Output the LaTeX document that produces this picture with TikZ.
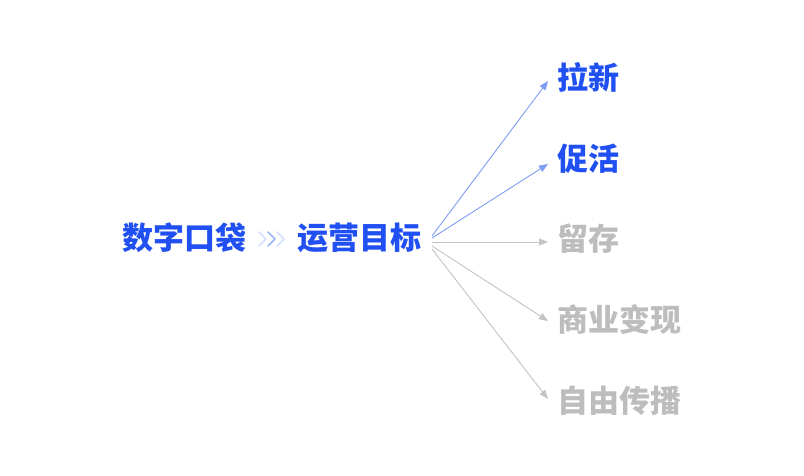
\documentclass[tikz,border=0pt]{standalone}
\usepackage{fontspec}
\newfontfamily\cjk{Noto Sans CJK SC}
\usetikzlibrary{arrows.meta}
\definecolor{mainblue}{HTML}{2150F2}
\definecolor{lineblue}{HTML}{7F9DF5}
\definecolor{chevlight}{HTML}{D5E0FD}
\definecolor{chevmid}{HTML}{9DB6FA}
\definecolor{softgray}{HTML}{BDBDBD}
\definecolor{linegray}{HTML}{C4C4C4}
\begin{document}
\begin{tikzpicture}[x=1pt,y=-1pt,
  lbl/.style={anchor=base west,inner sep=0pt,font=\cjk\bfseries\fontsize{31}{31}\selectfont},
  hot/.style={lbl,text=mainblue},
  cold/.style={lbl,text=softgray},
  arrowblue/.style={draw=lineblue,line width=0.9pt,-{Triangle[length=9pt,width=7pt]}},
  arrowgray/.style={draw=linegray,line width=0.9pt,-{Triangle[length=9pt,width=7pt]}},
  chev/.style={line width=1.6pt,line cap=round,line join=round}]
\useasboundingbox[fill=white] (0,0) rectangle (804,476);
\node[hot] (src) at (122,250) {数字口袋};
\node[hot] (goal) at (297,250) {运营目标};
% chevrons
\draw[chev,draw=chevlight] (259,232) -- (266,239) -- (259,246);
\draw[chev,draw=chevmid] (268,232) -- (275,239) -- (268,246);
\draw[chev,draw=chevlight] (277,232) -- (284,239) -- (277,246);
% targets
\node[hot] (t1) at (557,90) {拉新};
\node[hot] (t2) at (557,171) {促活};
\node[cold] (t3) at (557,251) {留存};
\node[cold] (t4) at (557,331) {商业变现};
\node[cold] (t5) at (557,412) {自由传播};
% start and tip coordinates
\coordinate (s1) at (432,236);
\coordinate (s2) at (432,238);
\coordinate (s3) at (432,242);
\coordinate (s4) at (432,246);
\coordinate (s5) at (432,249);
\coordinate (e1) at (548,81);
\coordinate (e2) at (548,164);
\coordinate (e3) at (548,242);
\coordinate (e4) at (548,321);
\coordinate (e5) at (548,399);
\draw[arrowblue] (s1) -- (e1);
\draw[arrowblue] (s2) -- (e2);
\draw[arrowgray] (s3) -- (e3);
\draw[arrowgray] (s4) -- (e4);
\draw[arrowgray] (s5) -- (e5);
\end{tikzpicture}
\end{document}
